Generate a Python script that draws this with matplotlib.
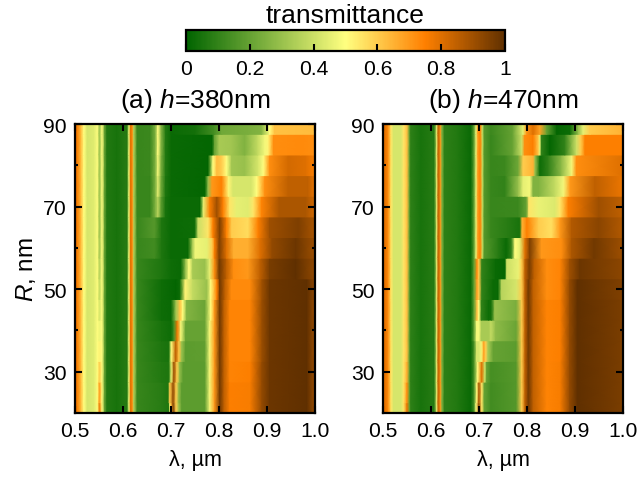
import matplotlib
matplotlib.use("Agg")
import matplotlib.pyplot as plt
import numpy as np
from matplotlib.colors import LinearSegmentedColormap
from matplotlib.cm import ScalarMappable
from matplotlib.colors import Normalize

plt.rcParams["font.family"] = ["Liberation Sans", "DejaVu Sans"]
plt.rcParams["mathtext.fontset"] = "custom"
plt.rcParams["mathtext.rm"] = "Liberation Sans"
plt.rcParams["mathtext.it"] = "Liberation Sans:italic"

R_values = [20, 25, 30, 35, 40, 45, 50, 55, 60, 65, 70, 75, 80, 85, 90]

# (wavelength, transmittance), left part is the same in every row
left_a = [(.5, .78), (.504, .76), (.5125, .62), (.518, .5), (.525, .42), (.539, .44), (.5466, .5)]
mid_a = [(.556, .49), (.561, .2), (.566, .07), (.587, .05), (.608, .08), (.612, .45), (.615, .8),
         (.619, .72), (.622, .35), (.629, .11)]
peak_a = [.78, .7, .6, .52, .47, .42, .38, .35, .32, .3, .3, .3, .3, .3, .3]

a_20 = [(.68, .08), (.695, .06), (.697, .45), (.70, .65), (.704, .95), (.71, .6), (.716, .3), (.722, .18), (.77, .18), (.78, .48), (.79, .7), (.801, .97), (.81, .85), (.822, .75), (.864, .76), (.889, .92), (.905, .98), (.983, 1), (1, .9)]
a_25 = [(.68, .08), (.693, .06), (.697, .6), (.704, .92), (.71, .6), (.716, .28), (.722, .18), (.77, .18), (.78, .48), (.79, .7), (.801, .97), (.81, .85), (.822, .75), (.864, .76), (.889, .92), (.905, .98), (.983, 1), (1, .9)]
a_30 = [(.68, .07), (.695, .06), (.70, .45), (.7056, .9), (.712, .6), (.718, .28), (.725, .18), (.77, .18), (.78, .48), (.79, .7), (.801, .97), (.81, .85), (.822, .74), (.864, .75), (.889, .92), (.905, .98), (.983, 1), (1, .9)]
a_35 = [(.68, .06), (.695, .05), (.70, .5), (.709, .85), (.716, .62), (.722, .3), (.73, .18), (.77, .19), (.78, .48), (.79, .7), (.801, .97), (.81, .85), (.822, .74), (.864, .74), (.889, .91), (.905, .98), (.983, 1), (1, .9)]
a_40 = [(.68, .05), (.70, .03), (.706, .15), (.7125, .78), (.72, .48), (.73, .2), (.77, .2), (.78, .48), (.79, .7), (.801, .97), (.81, .85), (.822, .74), (.864, .74), (.889, .91), (.905, .98), (.983, 1), (1, .9)]
a_45 = [(.68, .03), (.70, .02), (.71, .32), (.718, .62), (.724, .5), (.732, .26), (.77, .21), (.782, .5), (.79, .7), (.801, .97), (.81, .85), (.822, .74), (.864, .74), (.889, .91), (.905, .98), (.983, 1), (1, .9)]
a_50 = [(.68, .03), (.71, .01), (.718, .03), (.729, .52), (.745, .38), (.774, .3), (.782, .5), (.795, .75), (.801, .97), (.812, .85), (.825, .73), (.864, .73), (.889, .9), (.905, .98), (.983, 1), (1, .92)]
a_55 = [(.68, .06), (.70, .03), (.72, .02), (.73, .3), (.737, .5), (.745, .33), (.77, .3), (.78, .45), (.79, .72), (.80, .97), (.815, .85), (.83, .72), (.86, .7), (.885, .85), (.905, .96), (.96, 1), (1, .92)]
a_60 = [(.665, .13), (.68, .06), (.70, .02), (.735, .02), (.745, .35), (.75, .47), (.775, .45), (.785, .6), (.79, .75), (.80, .95), (.815, .8), (.83, .66), (.86, .66), (.885, .8), (.91, .92), (.96, .98), (1, .9)]
a_65 = [(.665, .17), (.68, .06), (.70, .02), (.749, .03), (.756, .4), (.777, .55), (.787, .75), (.801, .95), (.815, .75), (.826, .6), (.86, .57), (.881, .75), (.905, .9), (.965, .95), (1, .88)]
a_70 = [(.656, .11), (.667, .25), (.672, .36), (.679, .18), (.688, .05), (.70, .02), (.76, .02), (.767, .45), (.78, .75), (.795, .9), (.808, .75), (.822, .55), (.836, .45), (.86, .44), (.871, .55), (.888, .74), (.925, .88), (.98, .88), (1, .82)]
a_75 = [(.656, .11), (.667, .25), (.672, .44), (.679, .22), (.688, .06), (.70, .02), (.77, .01), (.777, .3), (.785, .7), (.805, .75), (.819, .52), (.829, .42), (.867, .42), (.878, .5), (.895, .72), (.944, .85), (.985, .85), (1, .78)]
a_80 = [(.656, .12), (.667, .25), (.672, .48), (.679, .24), (.688, .07), (.70, .02), (.777, .01), (.787, .5), (.795, .63), (.805, .6), (.815, .5), (.826, .32), (.853, .3), (.881, .42), (.892, .5), (.905, .72), (.944, .82), (.98, .8), (1, .75)]
a_85 = [(.656, .12), (.667, .25), (.672, .5), (.679, .26), (.688, .07), (.70, .02), (.785, .01), (.79, .2), (.80, .33), (.825, .32), (.853, .25), (.88, .38), (.895, .48), (.902, .52), (.913, .72), (.97, .73), (1, .72)]
a_90 = [(.656, .12), (.667, .25), (.672, .5), (.679, .26), (.688, .07), (.70, .02), (.75, .04), (.79, .14), (.805, .22), (.86, .24), (.888, .26), (.905, .5), (.915, .62), (1, .63)]
rows_a = [a_20, a_25, a_30, a_35, a_40, a_45, a_50, a_55, a_60, a_65, a_70, a_75, a_80, a_85, a_90]

left_b = [(.5, .8), (.506, .78), (.511, .72), (.517, .55), (.522, .42), (.537, .42), (.543, .55)]
mid_b = [(.555, .2), (.558, .09), (.579, .05), (.607, .08), (.612, .45), (.615, .85), (.62, .7),
         (.623, .25), (.628, .09), (.655, .07), (.683, .02)]
peak_b = [.78, .72, .66, .62, .62, .62, .62, .62, .62, .62, .62, .62, .62, .62, .62]

b_20 = [(.69, .15), (.694, .5), (.70, .92), (.706, .55), (.711, .2), (.725, .13), (.778, .17), (.789, .6), (.796, .85), (.803, .97), (.813, .85), (.841, .74), (.869, .76), (.889, .92), (.905, 1), (.994, .96), (1, .92)]
b_25 = [(.69, .15), (.695, .5), (.70, .88), (.706, .55), (.711, .2), (.725, .13), (.778, .17), (.789, .6), (.796, .85), (.803, .97), (.813, .85), (.841, .74), (.869, .76), (.889, .92), (.905, 1), (.994, .96), (1, .92)]
b_30 = [(.69, .15), (.697, .5), (.7055, .8), (.712, .4), (.716, .2), (.725, .14), (.778, .17), (.789, .6), (.796, .85), (.803, .97), (.813, .85), (.841, .74), (.869, .76), (.889, .92), (.905, 1), (.994, .96), (1, .92)]
b_35 = [(.69, .15), (.695, .42), (.70, .42), (.705, .48), (.7095, .68), (.714, .6), (.719, .33), (.73, .2), (.778, .18), (.789, .6), (.796, .85), (.803, .97), (.813, .85), (.841, .74), (.869, .75), (.889, .92), (.905, 1), (.994, .96), (1, .92)]
b_40 = [(.69, .2), (.695, .48), (.70, .48), (.705, .33), (.72, .33), (.725, .38), (.735, .28), (.778, .21), (.789, .6), (.796, .85), (.803, .97), (.813, .85), (.841, .74), (.869, .75), (.889, .92), (.905, 1), (.994, .96), (1, .92)]
b_45 = [(.69, .2), (.696, .62), (.70, .5), (.705, .1), (.72, .03), (.726, .05), (.733, .3), (.778, .24), (.789, .6), (.796, .85), (.803, .97), (.813, .85), (.841, .74), (.869, .75), (.889, .92), (.905, 1), (.994, .96), (1, .92)]
b_50 = [(.69, .2), (.696, .68), (.70, .6), (.706, .1), (.73, .02), (.74, .02), (.747, .36), (.778, .42), (.789, .6), (.796, .85), (.803, .97), (.813, .85), (.841, .72), (.869, .74), (.889, .92), (.905, 1), (.994, .95), (1, .92)]
b_55 = [(.69, .2), (.696, .72), (.70, .6), (.706, .1), (.735, .02), (.754, .01), (.758, .4), (.782, .46), (.789, .6), (.796, .85), (.805, .96), (.815, .85), (.841, .72), (.869, .74), (.889, .9), (.91, .98), (.994, .93), (1, .9)]
b_60 = [(.69, .2), (.694, .45), (.698, .7), (.703, .75), (.707, .4), (.711, .17), (.74, .08), (.757, .02), (.768, .1), (.775, .5), (.785, .45), (.796, .8), (.806, .95), (.83, .7), (.872, .72), (.893, .88), (.94, .97), (1, .9)]
b_65 = [(.69, .2), (.694, .45), (.698, .7), (.703, .75), (.707, .4), (.711, .17), (.725, .11), (.76, .08), (.785, .05), (.79, .65), (.80, .75), (.824, .6), (.851, .56), (.869, .7), (.893, .87), (.949, .93), (1, .87)]
b_70 = [(.69, .2), (.694, .45), (.698, .7), (.703, .75), (.707, .4), (.711, .17), (.725, .11), (.782, .12), (.799, .2), (.804, .55), (.824, .46), (.858, .43), (.869, .55), (.886, .75), (.949, .9), (1, .85)]
b_75 = [(.69, .2), (.694, .45), (.698, .7), (.703, .75), (.707, .4), (.711, .17), (.725, .11), (.754, .1), (.782, .3), (.792, .45), (.806, .48), (.813, .25), (.824, .25), (.858, .38), (.876, .48), (.89, .7), (.942, .85), (1, .78)]
b_80 = [(.69, .2), (.694, .45), (.698, .7), (.703, .75), (.707, .4), (.711, .17), (.725, .11), (.754, .12), (.782, .22), (.792, .6), (.813, .65), (.817, .3), (.827, .03), (.845, .1), (.872, .28), (.893, .48), (.903, .72), (1, .8)]
b_85 = [(.69, .2), (.694, .45), (.698, .7), (.703, .75), (.707, .4), (.711, .17), (.725, .11), (.77, .2), (.789, .4), (.795, .72), (.813, .75), (.824, .6), (.827, .45), (.83, .1), (.848, .01), (.879, .1), (.903, .4), (.912, .6), (.921, .75), (1, .75)]
b_90 = [(.69, .2), (.694, .45), (.698, .7), (.703, .75), (.707, .4), (.711, .17), (.725, .12), (.77, .2), (.792, .45), (.799, .7), (.813, .8), (.827, .68), (.841, .2), (.862, .01), (.89, .03), (.907, .3), (.917, .45), (.931, .6), (1, .65)]
rows_b = [b_20, b_25, b_30, b_35, b_40, b_45, b_50, b_55, b_60, b_65, b_70, b_75, b_80, b_85, b_90]

cmap = LinearSegmentedColormap.from_list(
    "trans", [(0, "#006400"), (.5, "#FFFF80"), (.75, "#FF8000"), (1, "#603000")])
norm = Normalize(0, 1)

W, H = 641, 485
fig = plt.figure(figsize=(W / 100, H / 100), dpi=100)


def panel(left_px, rows, left, mid, peak, title, ylabel):
    ax = fig.add_axes([left_px / W, 1 - 414 / H, 240 / W, 289 / H])
    for ind, r in enumerate(R_values):
        pts = left + [(.55, peak[ind])] + mid + rows[ind]
        wl = [p[0] for p in pts]
        t = [p[1] for p in pts]
        X = np.array([wl, wl])
        Y = np.array([[r - 2.5] * len(wl), [r + 2.5] * len(wl)])
        C = np.array([t, t])
        ax.pcolormesh(X, Y, C, shading="gouraud", cmap=cmap, norm=norm)
    ax.set_xlim(.5, 1)
    ax.set_ylim(20, 90)
    ax.set_xticks([.5, .6, .7, .8, .9, 1.0])
    ax.set_yticks([30, 50, 70, 90])
    ax.set_yticks([40, 60, 80], minor=True)
    ax.tick_params(which="major", direction="in", top=True, right=True, length=5,
                   width=1.5, labelsize=15.2, pad=6)
    ax.tick_params(which="minor", direction="in", right=True, length=2.5, width=1.5)
    ax.set_xlabel("λ, µm", fontsize=15.5, labelpad=6)
    if ylabel:
        ax.set_ylabel(r"$R$, nm", fontsize=17.5, labelpad=4)
    ax.set_title(title, fontsize=19, pad=12)
    for s in ax.spines.values():
        s.set_linewidth(1.6)
    return ax


ax_a = panel(75.3, rows_a, left_a, mid_a, peak_a, r"(a) $h$=380nm", True)
ax_b = panel(383, rows_b, left_b, mid_b, peak_b, r"(b) $h$=470nm", False)

cax = fig.add_axes([186 / W, 1 - 51.5 / H, 319 / W, 20.5 / H])
cb = fig.colorbar(ScalarMappable(norm=norm, cmap=cmap), cax=cax, orientation="horizontal")
cb.set_ticks([0, .2, .4, .6, .8, 1])
cb.set_ticklabels(["0", "0.2", "0.4", "0.6", "0.8", "1"])
cb.ax.tick_params(direction="in", length=5, width=1.5, labelsize=15.2, pad=6)
cb.outline.set_linewidth(1.6)
cb.ax.set_title("transmittance", fontsize=19, pad=6)

fig.savefig("out.png", dpi=100)
